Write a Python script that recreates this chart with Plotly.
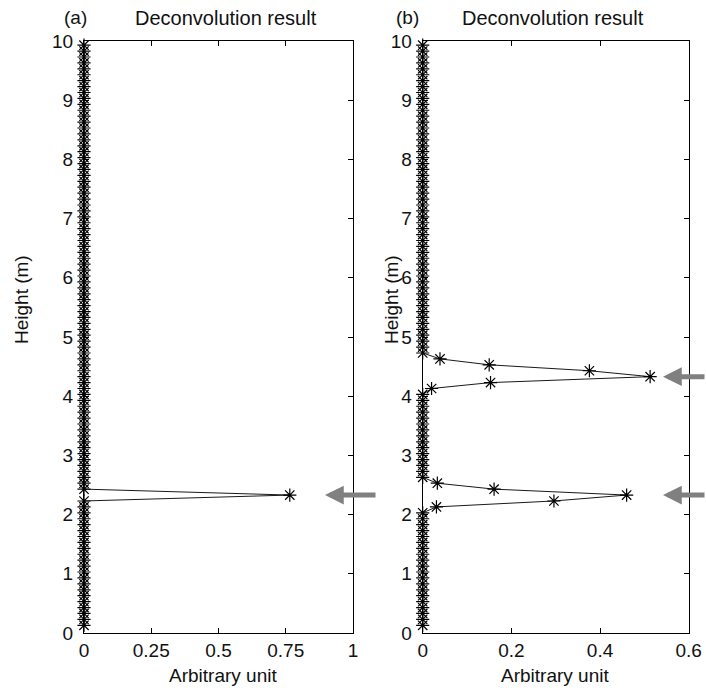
import plotly.graph_objects as go

# Sampling heights (m) of the deconvolution output
heights = [round(0.03 + 0.1 * k, 2) for k in range(1, 100)]

# Non-zero deconvolution values (arbitrary unit) keyed by height
peaks_a = {2.33: 0.765}
peaks_b = {4.63: 0.039, 4.53: 0.150, 4.43: 0.376, 4.33: 0.513, 4.23: 0.153, 4.13: 0.020,
           2.53: 0.033, 2.43: 0.161, 2.33: 0.460, 2.23: 0.296, 2.13: 0.031}

values_a = [peaks_a.get(h, 0.0) for h in heights]
values_b = [peaks_b.get(h, 0.0) for h in heights]

# arrows mark the reflector heights
arrows_a = [2.33]
arrows_b = [4.33, 2.33]

xticks_a = [0, 0.25, 0.5, 0.75, 1]
xticks_b = [0, 0.2, 0.4, 0.6]
yticks = list(range(0, 11))

FONT = "Arial, Liberation Sans, sans-serif"
FS = 19
W, H = 706, 690

fig = go.Figure()
trace_style = dict(mode="lines+markers", cliponaxis=False,
                   line=dict(color="#1a1a1a", width=1),
                   marker=dict(symbol="asterisk-open", size=11, color="black",
                               line=dict(color="black", width=1.2)),
                   showlegend=False)
fig.add_trace(go.Scatter(x=values_a, y=heights, xaxis="x", yaxis="y", **trace_style))
fig.add_trace(go.Scatter(x=values_b, y=heights, xaxis="x2", yaxis="y2", **trace_style))

def px(x):
    return x / W

def py(y):
    return 1 - y / H

axis_common = dict(showgrid=False, zeroline=False, showline=True, linecolor="black",
                   linewidth=1, mirror="ticks", ticks="inside", ticklen=5, automargin=False,
                   tickcolor="black", tickfont=dict(family=FONT, size=FS, color="#111"))

ydom = [py(633), py(41)]
fig.update_layout(
    width=W, height=H,
    margin=dict(l=0, r=0, t=0, b=0, autoexpand=False),
    paper_bgcolor="white", plot_bgcolor="white",
    xaxis=dict(domain=[px(84), px(353)], range=[0, 1], tickvals=xticks_a,
               ticktext=[f"{v:g}" for v in xticks_a], anchor="y", **axis_common),
    yaxis=dict(domain=ydom, range=[0, 10], tickvals=yticks, anchor="x",
               ticklabelstandoff=6, **axis_common),
    xaxis2=dict(domain=[px(422.7), px(688.7)], range=[0, 0.6], tickvals=xticks_b,
                ticktext=[f"{v:g}" for v in xticks_b], anchor="y2", **axis_common),
    yaxis2=dict(domain=ydom, range=[0, 10], tickvals=yticks, anchor="x2",
                ticklabelstandoff=6, **axis_common),
)

ann = []
def text(x, y, s, angle=0, size=FS):
    ann.append(dict(x=px(x), y=py(y), xref="paper", yref="paper", text=s, showarrow=False,
                    textangle=angle, xanchor="center", yanchor="middle",
                    font=dict(family=FONT, size=size, color="#111")))

text(75, 18, "(a)")
text(226, 18, "Deconvolution result", size=20)
text(407, 18, "(b)")
text(553, 18, "Deconvolution result", size=20)
text(223, 675, "Arbitrary unit")
text(555, 675, "Arbitrary unit")
text(22, 300, "Height (m)", -90)
text(392, 300, "Height (m)", -90)

for h in arrows_a:
    ann.append(dict(x=px(325), y=h, xref="paper", yref="y", ax=52, ay=0, text="",
                    showarrow=True, arrowhead=2, arrowsize=0.75, arrowwidth=5,
                    arrowcolor="#808080"))
for h in arrows_b:
    ann.append(dict(x=px(663), y=h, xref="paper", yref="y2", ax=52, ay=0, text="",
                    showarrow=True, arrowhead=2, arrowsize=0.75, arrowwidth=5,
                    arrowcolor="#808080"))

fig.update_layout(annotations=ann)
fig.write_html(
    "out.html",
    config={"displayModeBar": False},
    post_script="document.documentElement.style.margin='0';document.body.style.margin='0';"
                "document.body.style.overflow='hidden';",
)
